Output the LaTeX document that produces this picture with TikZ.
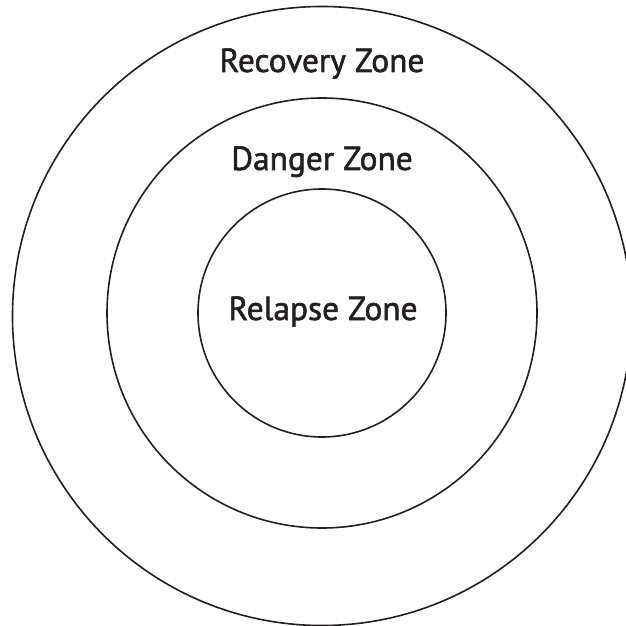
\documentclass[tikz,border=0pt]{standalone}
\usepackage{fontspec}
\newfontfamily\zonefont{PT Sans}[RawFeature={embolden=1.6}]
\definecolor{ink}{HTML}{231F20}
\begin{document}
\begin{tikzpicture}[x=0.4mm,y=-0.4mm,font=\zonefont\fontsize{38}{40}\selectfont,
	zone/.style={draw=ink,line width=0.64mm,circle,inner sep=0pt},
	lbl/.style={anchor=base,text=ink,inner sep=0pt}]
	\useasboundingbox (0,0) rectangle (625,626);
	\foreach \n/\d/\y in {outer/247.6/316,middle/172/313,inner/99.2/313}
		\node[zone,minimum size=\d mm] (\n) at (322,\y) {};
	\node[lbl] (recovery) at (322,72) {Recovery Zone};
	\node[lbl] (danger) at (322,170) {Danger Zone};
	\node[lbl] (relapse) at (323,320) {Relapse Zone};
\end{tikzpicture}
\end{document}
